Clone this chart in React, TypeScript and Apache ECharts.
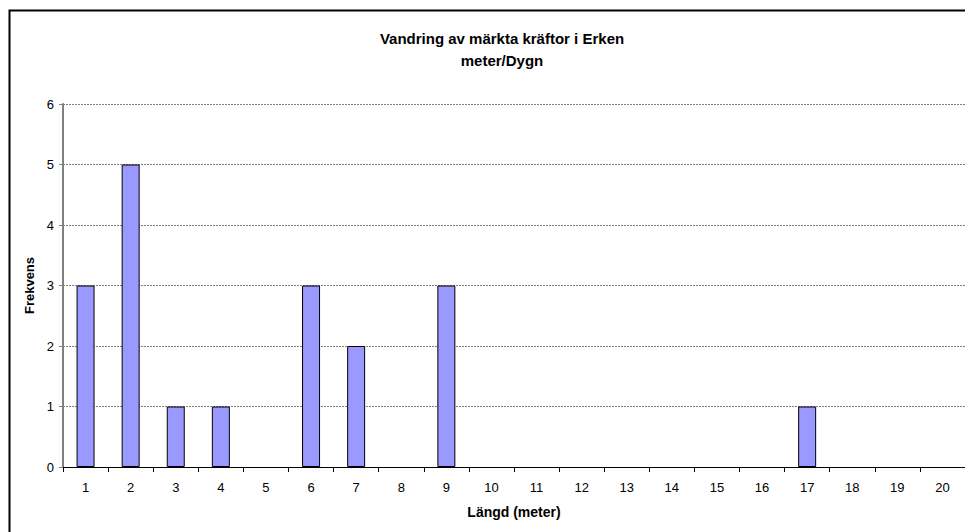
import React, { useEffect, useRef } from "react";
import * as echarts from "echarts";

const categories = ["1","2","3","4","5","6","7","8","9","10","11","12","13","14","15","16","17","18","19","20"];
const frekvens = [3,5,1,1,0,3,2,0,3,0,0,0,0,0,0,0,1,0,0,0];
const titleLines = ["Vandring av märkta kräftor i Erken", "meter/Dygn"];
const xName = "Längd (meter)";
const yName = "Frekvens";

export default function App() {
  const ref = useRef<HTMLDivElement>(null);
  useEffect(() => {
    const chart = echarts.init(ref.current!, null, { renderer: "svg" });
    const font = "Liberation Sans, Arial, sans-serif";
    chart.setOption({
      animation: false,
      backgroundColor: "#ffffff",
      textStyle: { fontFamily: font },
      title: {
        text: titleLines.join("\n"),
        left: 497,
        textAlign: "center",
        top: 22,
        textStyle: { fontSize: 15, fontWeight: "bold", color: "#000", lineHeight: 22, fontFamily: font },
      },
      graphic: [
        {
          type: "rect",
          left: 7,
          top: 8,
          shape: { width: 1000, height: 600 },
          style: { fill: "none", stroke: "#000", lineWidth: 2 },
          silent: true,
        },
      ],
      grid: { left: 63, top: 104, width: 906, height: 363 },
      xAxis: {
        type: "category",
        data: categories,
        boundaryGap: true,
        name: xName,
        nameLocation: "middle",
        nameGap: 38,
        nameTextStyle: { fontSize: 14, fontWeight: "bold", color: "#000", fontFamily: font },
        axisLine: { lineStyle: { color: "#000", width: 1 } },
        axisTick: { show: true, alignWithLabel: false, length: 5, lineStyle: { color: "#000" } },
        axisLabel: { fontSize: 13, color: "#000", margin: 14, interval: 0, fontFamily: font },
      },
      yAxis: {
        type: "value",
        min: 0,
        max: 6,
        interval: 1,
        name: yName,
        nameLocation: "middle",
        nameGap: 27,
        nameRotate: 90,
        nameTextStyle: { fontSize: 13, fontWeight: "bold", color: "#000", fontFamily: font },
        axisLine: { show: true, lineStyle: { color: "#808080", width: 2 } },
        axisTick: { show: true, length: 4, lineStyle: { color: "#808080" } },
        axisLabel: { fontSize: 13, color: "#000", margin: 9, fontFamily: font },
        splitLine: { show: true, lineStyle: { color: "#808080", type: [2, 1], width: 1 } },
      },
      series: [
        {
          type: "bar",
          data: frekvens.map((v) => (v === 0 ? { value: v, itemStyle: { borderWidth: 0, opacity: 0 } } : v)),
          barWidth: 18,
          itemStyle: { color: "#9999FF", borderColor: "#000", borderWidth: 1 },
        },
      ],
    });
    return () => chart.dispose();
  }, []);
  return <div ref={ref} style={{ position: "fixed", left: 0, top: 0, width: 965, height: 532 }} />;
}
